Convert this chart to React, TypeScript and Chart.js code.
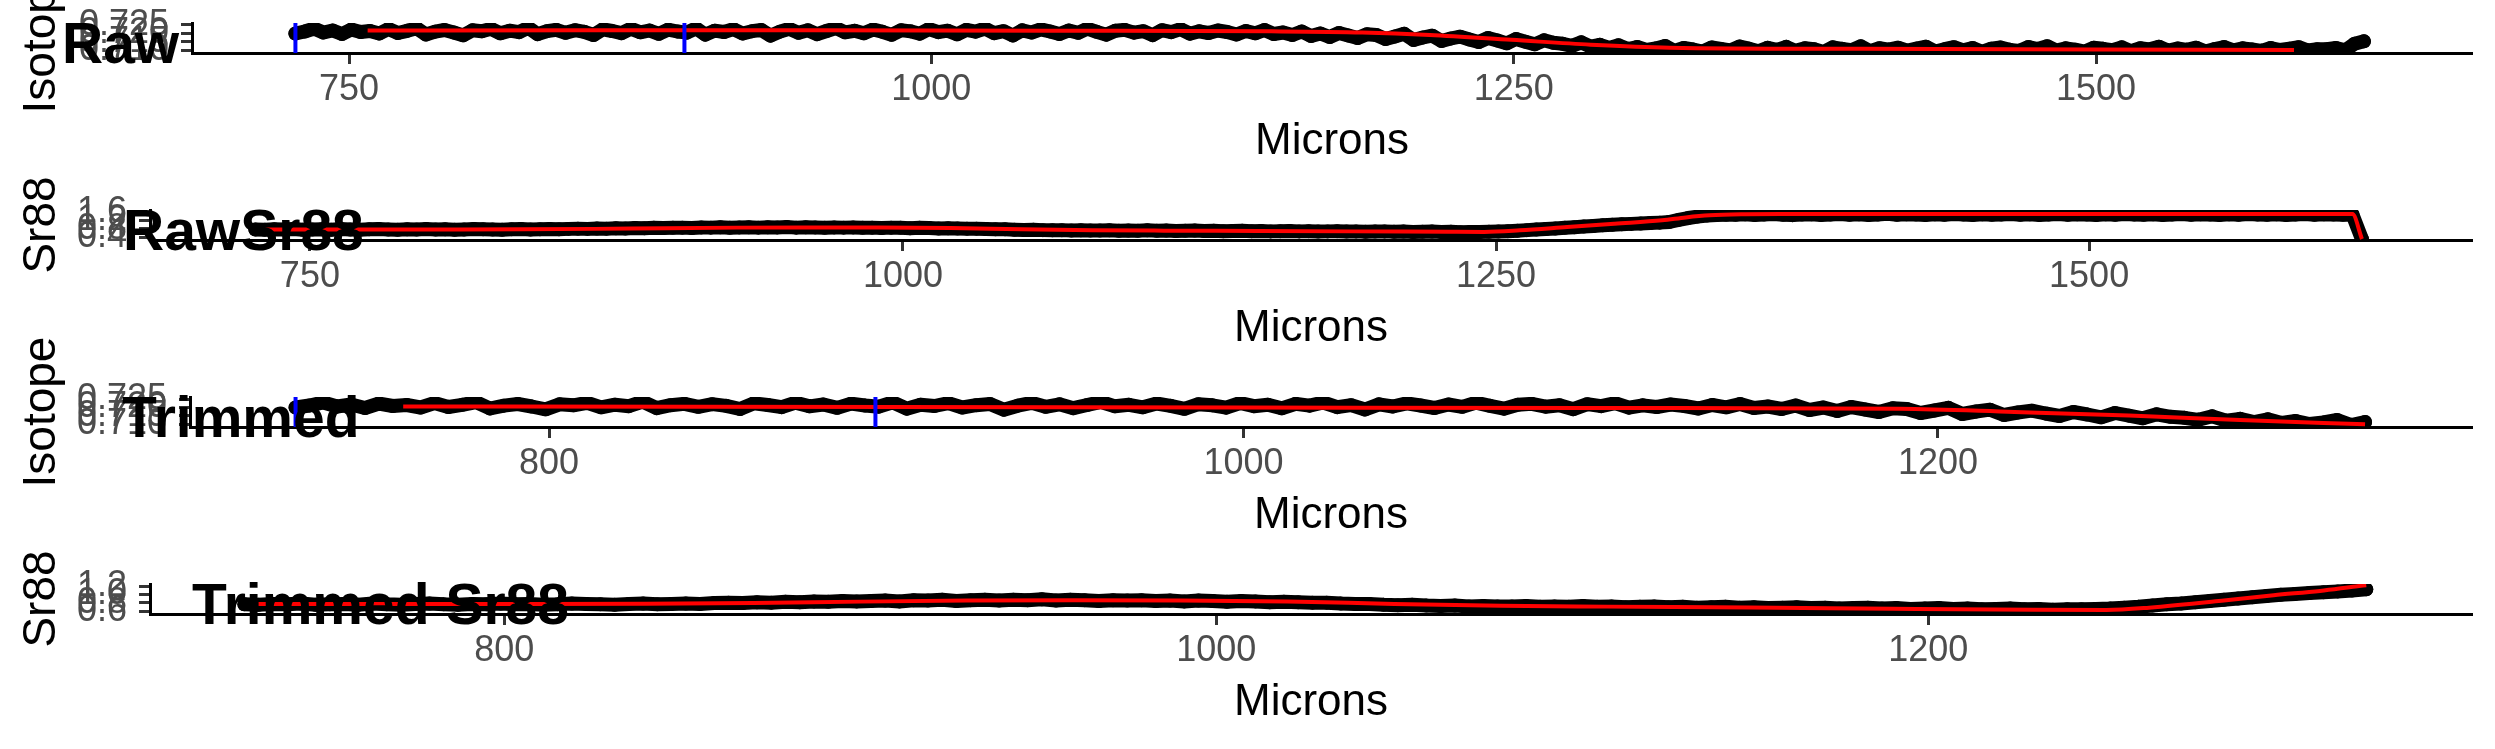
import React, { useEffect, useRef } from "react";
import { Chart, registerables } from "chart.js";

Chart.register(...registerables);

const PAGE_W = 2495;
const PAGE_H = 749;
const FONT = '"Liberation Sans", Arial, Helvetica, sans-serif';

// ---------------- data ----------------
const micronStart = 727;
const micronStep = 4;
const trimEnd = 1324;
const cutMicrons = [727, 894];

const rawIsotope = [
  0.7199, 0.7211, 0.7229, 0.7205, 0.7217, 0.7196, 0.7223, 0.7208, 0.7214, 0.7199,
  0.7226, 0.7202, 0.7215, 0.7231, 0.7193, 0.721, 0.722, 0.7205, 0.7188, 0.7218,
  0.7212, 0.7227, 0.72, 0.7216, 0.7207, 0.7234, 0.7195, 0.7213, 0.7221, 0.7203,
  0.7219, 0.7209, 0.719, 0.7224, 0.7214, 0.7201, 0.7228, 0.7206, 0.7217, 0.7197,
  0.7222, 0.7211, 0.7204, 0.723, 0.7192, 0.7216, 0.7208, 0.7225, 0.7199, 0.7213,
  0.722, 0.7186, 0.721, 0.7227, 0.7203, 0.7218, 0.7195, 0.7214, 0.7232, 0.7206,
  0.7215, 0.72, 0.7223, 0.7209, 0.7191, 0.7219, 0.7212, 0.7198, 0.7226, 0.7207,
  0.7216, 0.7194, 0.7221, 0.721, 0.7229, 0.7201, 0.7213, 0.7187, 0.7218, 0.7205,
  0.7224, 0.7211, 0.7196, 0.7217, 0.7203, 0.7228, 0.7209, 0.7192, 0.7215, 0.7221,
  0.7204, 0.7213, 0.7189, 0.7219, 0.7207, 0.7225, 0.7198, 0.7212, 0.7202, 0.7217,
  0.7208, 0.7193, 0.7214, 0.72, 0.722, 0.7196,
  0.7205, 0.719, 0.7211, 0.7184, 0.7199, 0.7178, 0.7202, 0.7187, 0.7172, 0.7195,
  0.719, 0.7166, 0.7181, 0.7197, 0.716, 0.7175, 0.7186, 0.7154, 0.7169, 0.718,
  0.7163, 0.7148, 0.7172, 0.7157, 0.714, 0.7166, 0.715, 0.7134, 0.7158, 0.7143,
  0.7137, 0.7125, 0.7146, 0.712, 0.7131, 0.7112, 0.7128, 0.7106,
  0.7118, 0.71, 0.7109, 0.7124, 0.7094, 0.7112, 0.7103, 0.709, 0.7115, 0.7106,
  0.7097, 0.7121, 0.7108, 0.7092, 0.7113, 0.7101, 0.7119, 0.7095, 0.711, 0.7104,
  0.7088, 0.7116, 0.7107, 0.7099, 0.7122, 0.7093, 0.7111, 0.7102, 0.7114, 0.7096,
  0.7109, 0.712, 0.7091, 0.7105, 0.7117, 0.7098, 0.7112, 0.7089, 0.7108, 0.7115,
  0.7101, 0.7094, 0.7118, 0.7106, 0.7123, 0.7097, 0.711, 0.7102, 0.709, 0.7113,
  0.7107, 0.7099, 0.7116, 0.7093, 0.7111, 0.7104, 0.712, 0.7096, 0.7109, 0.7101,
  0.7114, 0.7091, 0.7106, 0.7118, 0.7098, 0.711, 0.7103, 0.7095, 0.7112, 0.71,
  0.7108, 0.7117, 0.7097, 0.7105, 0.7105, 0.7112, 0.7098, 0.7138, 0.7152,
];

const rawSr88 = [
  0.76, 0.75, 0.77, 0.76, 0.78, 0.75, 0.76, 0.77, 0.75, 0.78,
  0.76, 0.75, 0.77, 0.78, 0.76, 0.75, 0.77, 0.76, 0.78, 0.76,
  0.77, 0.75, 0.76, 0.78, 0.77, 0.76, 0.75, 0.77, 0.78, 0.76, 0.77,
  0.78, 0.77, 0.79, 0.8, 0.79, 0.81, 0.8, 0.82, 0.81, 0.83, 0.82, 0.84, 0.83,
  0.84, 0.85, 0.83, 0.86, 0.85, 0.87, 0.84, 0.86, 0.87, 0.85,
  0.87, 0.86, 0.88, 0.85, 0.87, 0.86, 0.84, 0.86, 0.85, 0.86,
  0.84, 0.85, 0.83, 0.85, 0.84, 0.82, 0.84, 0.83, 0.81, 0.82,
  0.81, 0.8, 0.8, 0.78, 0.77, 0.77, 0.75, 0.74, 0.75, 0.73, 0.72, 0.73, 0.71, 0.72, 0.71,
  0.71, 0.72, 0.7, 0.71, 0.7, 0.72, 0.7, 0.71, 0.69, 0.7,
  0.71, 0.69, 0.7, 0.68, 0.69, 0.7, 0.68, 0.69, 0.67, 0.68,
  0.69, 0.67, 0.68, 0.66, 0.67, 0.68, 0.66, 0.67, 0.65, 0.66,
  0.67, 0.65, 0.66, 0.64, 0.65, 0.66, 0.64, 0.65, 0.63, 0.64,
  0.64, 0.65, 0.66, 0.68, 0.7, 0.73,
  0.76, 0.78, 0.81, 0.84, 0.87, 0.9, 0.93, 0.96, 0.99, 1.01,
  1.03, 1.05, 1.07, 1.09, 1.12, 1.22, 1.31, 1.38, 1.43, 1.46, 1.47,
  1.47, 1.49, 1.46, 1.48, 1.5, 1.47, 1.45, 1.48, 1.49, 1.46,
  1.48, 1.5, 1.47, 1.49, 1.46, 1.48, 1.51, 1.47, 1.49, 1.48,
  1.46, 1.49, 1.47, 1.5, 1.48, 1.46, 1.49, 1.47, 1.48, 1.5,
  1.47, 1.49, 1.46, 1.48, 1.5, 1.47, 1.49, 1.48, 1.46, 1.49,
  1.47, 1.5, 1.48, 1.47, 1.49, 1.46, 1.48, 1.5, 1.47, 1.49,
  1.48, 1.46, 1.49, 1.47, 1.5, 1.48, 1.47, 1.49, 1.46, 1.48,
  1.5, 1.47, 1.49, 1.48, 1.47, 1.48,
  0.3,
];

const rawMicrons = rawIsotope.map((_, i) => micronStart + i * micronStep);

const rawIsoSmoothMicrons = [758, 850, 950, 1050, 1146, 1185, 1214, 1249, 1283, 1317, 1400, 1500, 1585];
const rawIsoSmooth = [0.7217, 0.7218, 0.7218, 0.7216, 0.7212, 0.7205, 0.719, 0.7161, 0.7132, 0.7114, 0.7107, 0.7103, 0.71];

const trimIsoSmoothMicrons = [758, 900, 1000, 1100, 1189, 1222, 1255, 1287, 1323];
const trimIsoSmooth = [0.7205, 0.7202, 0.7199, 0.7196, 0.7191, 0.7172, 0.7151, 0.7124, 0.7098];

const rawSrSmoothMicrons = [727, 760, 800, 840, 870, 900, 930, 960, 990, 1020, 1050, 1080, 1110, 1150, 1190, 1230, 1245, 1260, 1280, 1300, 1320, 1330, 1340, 1355, 1370, 1400, 1450, 1500, 1550, 1611, 1615];
const rawSrSmooth = [0.76, 0.765, 0.765, 0.77, 0.79, 0.825, 0.85, 0.86, 0.855, 0.83, 0.77, 0.725, 0.705, 0.69, 0.67, 0.65, 0.645, 0.72, 0.88, 1.04, 1.2, 1.34, 1.44, 1.49, 1.5, 1.5, 1.505, 1.5, 1.505, 1.5, 0.3];

const trimSrSmoothMicrons = [731, 760, 800, 840, 870, 900, 930, 960, 990, 1020, 1050, 1080, 1110, 1150, 1190, 1230, 1250, 1262, 1283, 1297, 1310, 1320, 1323];
const trimSrSmooth = [0.77, 0.77, 0.77, 0.775, 0.79, 0.825, 0.85, 0.86, 0.855, 0.83, 0.77, 0.725, 0.705, 0.685, 0.655, 0.63, 0.625, 0.68, 0.85, 0.98, 1.08, 1.19, 1.22];

const rawXTicks = [750, 1000, 1250, 1500];
const trimXTicks = [800, 1000, 1200];
const isoYTicks = [0.71, 0.715, 0.72, 0.725];
const rawSrYTicks = [0.4, 0.8, 1.2, 1.6];
const trimSrYTicks = [0.6, 0.8, 1.0, 1.2];

const panelTitles = ["Raw", "RawSr88", "Trimmed", "Trimmed Sr88"];
const yTitles = ["Isotope", "Sr88", "Isotope", "Sr88"];
const xTitle = "Microns";

// ---------------- helpers ----------------
type Pt = { x: number; y: number };
const zip = (xs: number[], ys: number[]): Pt[] => xs.map((x, i) => ({ x, y: ys[i] }));
const trimmedMicrons = rawMicrons.filter((m) => m <= trimEnd);
const trimmedIsotope = rawIsotope.slice(0, trimmedMicrons.length);
const trimmedSr88 = rawSr88.slice(0, trimmedMicrons.length);

// ---------------- layout ----------------
const ROW_H = 187;
const PLOT_TOP = 23;
const PLOT_BOTTOM = 53;
const PLOT_RIGHT = 2472;
const X_AXIS_H = 115;
const POINT_R = 7;

const panels = [
  {
    title: panelTitles[0], titleX: 62, yTitle: yTitles[0],
    points: zip(rawMicrons, rawIsotope), smooth: zip(rawIsoSmoothMicrons, rawIsoSmooth), cuts: cutMicrons,
    xMin: 682.6, xMax: 1661.4, xTicks: rawXTicks, yMin: 0.7082, yMax: 0.7262, yTicks: isoYTicks, decimals: 3, axisLeft: 192,
  },
  {
    title: panelTitles[1], titleX: 123, yTitle: yTitles[1],
    points: zip(rawMicrons, rawSr88), smooth: zip(rawSrSmoothMicrons, rawSrSmooth), cuts: [] as number[],
    xMin: 682.6, xMax: 1661.4, xTicks: rawXTicks, yMin: 0.256, yMax: 1.696, yTicks: rawSrYTicks, decimals: 1, axisLeft: 150,
  },
  {
    title: panelTitles[2], titleX: 122, yTitle: yTitles[2],
    points: zip(trimmedMicrons, trimmedIsotope), smooth: zip(trimIsoSmoothMicrons, trimIsoSmooth), cuts: cutMicrons,
    xMin: 696.6, xMax: 1353.8, xTicks: trimXTicks, yMin: 0.7082, yMax: 0.7262, yTicks: isoYTicks, decimals: 3, axisLeft: 190,
  },
  {
    title: panelTitles[3], titleX: 192, yTitle: yTitles[3],
    points: zip(trimmedMicrons, trimmedSr88), smooth: zip(trimSrSmoothMicrons, trimSrSmooth), cuts: [] as number[],
    xMin: 700.5, xMax: 1352.7, xTicks: trimXTicks, yMin: 0.528, yMax: 1.248, yTicks: trimSrYTicks, decimals: 1, axisLeft: 150,
  },
];

const panelTitlePlugin = {
  id: "panelTitle",
  afterDraw(chart: any, _args: any, opts: any) {
    const { ctx, chartArea } = chart;
    ctx.save();
    ctx.fillStyle = "#000000";
    ctx.textAlign = "left";
    ctx.textBaseline = "alphabetic";
    ctx.font = `bold 57px ${FONT}`;
    ctx.fillText(opts.text, opts.x, chartArea.bottom + 10);
    ctx.restore();
  },
};

function buildConfig(p: (typeof panels)[number], row: number): any {
  const off = row * ROW_H;
  const datasets: any[] = [];
  p.cuts.forEach((c) => {
    datasets.push({
      type: "line",
      data: [{ x: c, y: p.yMin }, { x: c, y: p.yMax }],
      borderColor: "#0000FF",
      borderWidth: 4,
      pointRadius: 0,
      clip: 0,
      order: 0,
    });
  });
  datasets.push({
    type: "line",
    data: p.smooth,
    borderColor: "#FF0000",
    borderWidth: 4,
    pointRadius: 0,
    cubicInterpolationMode: "monotone",
    clip: 0,
    order: 1,
  });
  datasets.push({
    type: "line",
    data: p.points,
    borderColor: "#000000",
    borderWidth: POINT_R * 2,
    borderJoinStyle: "round",
    borderCapStyle: "round",
    pointRadius: POINT_R,
    pointBackgroundColor: "#000000",
    pointBorderWidth: 0,
    clip: 0,
    order: 2,
  });

  const tickGrid = {
    display: true,
    drawOnChartArea: false,
    drawTicks: true,
    tickLength: 11,
    tickWidth: 3,
    tickColor: "#333333",
  };
  const border = { display: true, color: "#000000", width: 3 };

  return {
    type: "scatter",
    data: { datasets },
    options: {
      responsive: false,
      maintainAspectRatio: false,
      animation: false,
      devicePixelRatio: 1,
      events: [],
      layout: {
        padding: {
          top: off + PLOT_TOP,
          left: 0,
          right: PAGE_W - PLOT_RIGHT,
          bottom: PAGE_H - (off + PLOT_BOTTOM) - X_AXIS_H,
        },
      },
      plugins: {
        legend: { display: false },
        tooltip: { enabled: false },
        title: { display: false },
        panelTitle: { text: p.title, x: p.titleX },
      },
      scales: {
        x: {
          type: "linear",
          position: "bottom",
          min: p.xMin,
          max: p.xMax,
          afterBuildTicks: (s: any) => {
            s.ticks = p.xTicks.map((v) => ({ value: v }));
          },
          afterFit: (s: any) => {
            s.height = X_AXIS_H;
            s.paddingLeft = 0;
            s.paddingRight = 0;
          },
          ticks: {
            autoSkip: false,
            maxRotation: 0,
            minRotation: 0,
            padding: 4,
            color: "#4D4D4D",
            font: { family: FONT, size: 36 },
            callback: (v: any) => String(v),
          },
          grid: tickGrid,
          border,
          title: {
            display: true,
            text: xTitle,
            color: "#000000",
            font: { family: FONT, size: 44 },
            padding: { top: 0, bottom: 0 },
          },
        },
        y: {
          type: "linear",
          position: "left",
          min: p.yMin,
          max: p.yMax,
          afterBuildTicks: (s: any) => {
            s.ticks = p.yTicks.map((v) => ({ value: v }));
          },
          afterFit: (s: any) => {
            s.width = p.axisLeft;
            s.paddingTop = 0;
            s.paddingBottom = 0;
          },
          ticks: {
            autoSkip: false,
            padding: 12,
            color: "#4D4D4D",
            font: { family: FONT, size: 36 },
            callback: (v: any) => Number(v).toFixed(p.decimals),
          },
          grid: tickGrid,
          border,
          title: {
            display: true,
            text: p.yTitle,
            color: "#000000",
            font: { family: FONT, size: 46 },
            padding: { top: 15, bottom: 0 },
          },
        },
      },
    },
    plugins: [panelTitlePlugin],
  };
}

export default function App() {
  const canvases = useRef<(HTMLCanvasElement | null)[]>([]);

  useEffect(() => {
    const charts = panels.map((p, i) => new Chart(canvases.current[i] as HTMLCanvasElement, buildConfig(p, i)));
    return () => charts.forEach((c) => c.destroy());
  }, []);

  return (
    <div
      style={{
        position: "fixed",
        left: 0,
        top: 0,
        width: PAGE_W,
        height: PAGE_H,
        background: "#ffffff",
        overflow: "hidden",
      }}
    >
      {panels.map((_, i) => (
        <canvas
          key={i}
          ref={(el) => {
            canvases.current[i] = el;
          }}
          width={PAGE_W}
          height={PAGE_H}
          style={{ position: "absolute", left: 0, top: 0, width: PAGE_W, height: PAGE_H }}
        />
      ))}
    </div>
  );
}
